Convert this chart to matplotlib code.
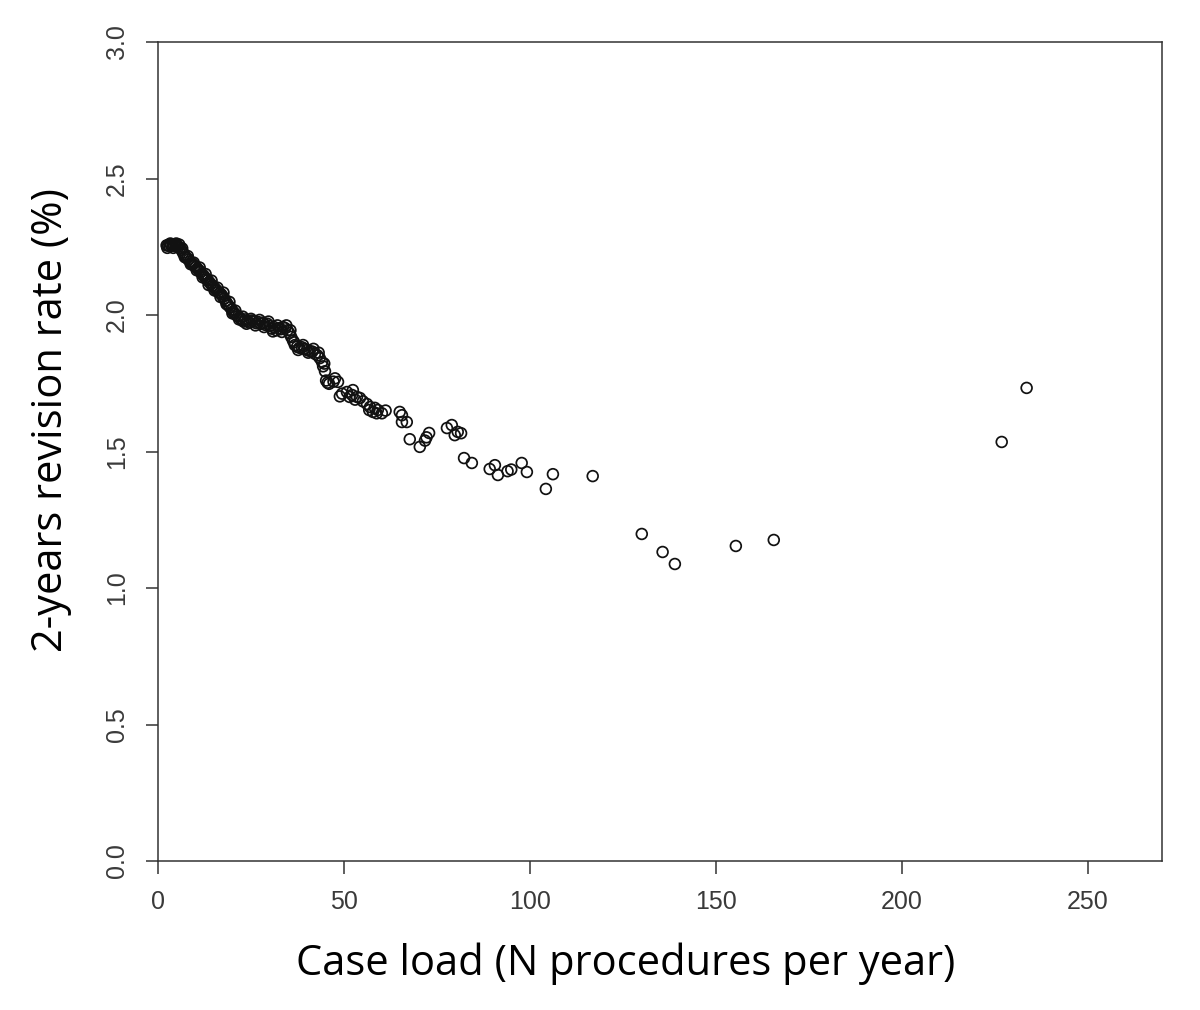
import matplotlib
matplotlib.use("Agg")
import matplotlib.pyplot as plt

# case load (procedures per year) and 2-year revision rate (%) per hospital
case_load = [
    2.3, 2.7, 3.1, 3.5, 3.9, 4.3, 4.7, 5.1, 5.5, 5.9,
    6.3, 6.7, 7.0, 7.4, 7.8, 8.2, 8.6, 9.0, 9.4, 9.8,
    10.2, 10.6, 11.0, 11.4, 11.8, 12.2, 12.6, 13.0, 13.4, 13.8,
    14.2, 14.6, 15.0, 15.4, 15.8, 16.2, 16.6, 17.0, 17.4, 17.8,
    18.2, 18.6, 19.0, 19.4, 19.8, 20.2, 20.6, 21.0, 21.5, 22.0,
    22.5, 23.0, 23.5, 24.0, 24.6, 25.2, 25.8, 26.4, 27.0, 27.6,
    28.2, 28.8, 29.4, 30.0, 30.6, 31.2, 31.8, 32.4, 33.0, 33.6,
    34.2, 34.8, 35.3, 35.8, 36.3, 36.8, 37.4, 38.0, 38.7, 39.4,
    40.1, 40.8, 41.5, 42.2, 42.9, 43.5, 44.1, 44.4, 44.9, 45.2,
    45.6, 47.6, 48.4, 48.9, 50.8, 52.2, 52.4, 53.5, 54.3, 55.1,
    56.2, 57.0, 57.8, 58.3, 59.1, 60.2, 61.2, 65.0, 65.6, 65.6,
    66.9, 67.7, 70.4, 71.8, 72.2, 72.9, 77.7, 79.0, 79.8, 80.6,
    81.5, 82.3, 84.4, 89.2, 90.6, 91.4, 94.0, 95.0, 97.8, 99.2,
    104.3, 106.2, 116.9, 130.1, 135.7, 139.0, 155.4, 165.6, 226.9, 233.6,
    2.5, 3.3, 4.1, 4.9, 5.7, 6.5, 7.2, 8.0, 8.8, 9.6,
    10.4, 11.2, 12.0, 12.8, 13.6, 14.4, 15.2, 16.0, 16.8, 17.6,
    18.4, 19.2, 20.0, 20.8, 21.8, 22.8, 23.8, 25.0, 26.2, 27.3,
    28.5, 29.7, 30.9, 32.1, 33.3, 34.5, 35.6, 36.6, 37.7, 39.0,
    40.4, 41.8, 43.2, 44.7, 46.0, 47.2, 49.5, 51.5, 53.0, 56.8,
    58.8,
]
revision_rate = [
    2.255, 2.256, 2.252, 2.256, 2.254, 2.256, 2.252, 2.255, 2.250, 2.246,
    2.238, 2.228, 2.222, 2.214, 2.208, 2.203, 2.196, 2.190, 2.186, 2.180,
    2.176, 2.170, 2.164, 2.158, 2.150, 2.146, 2.138, 2.132, 2.128, 2.120,
    2.114, 2.106, 2.102, 2.096, 2.090, 2.084, 2.080, 2.076, 2.068, 2.060,
    2.052, 2.042, 2.034, 2.028, 2.020, 2.012, 2.006, 2.000, 1.996, 1.990,
    1.982, 1.976, 1.984, 1.978, 1.972, 1.980, 1.976, 1.970, 1.974, 1.968,
    1.972, 1.964, 1.968, 1.960, 1.950, 1.956, 1.944, 1.952, 1.948, 1.956,
    1.952, 1.944, 1.934, 1.920, 1.906, 1.890, 1.884, 1.880, 1.882, 1.876,
    1.872, 1.868, 1.866, 1.858, 1.852, 1.842, 1.828, 1.812, 1.794, 1.760,
    1.752, 1.768, 1.755, 1.702, 1.718, 1.707, 1.725, 1.700, 1.696, 1.684,
    1.674, 1.663, 1.645, 1.660, 1.652, 1.640, 1.650, 1.645, 1.633, 1.608,
    1.608, 1.545, 1.517, 1.540, 1.552, 1.568, 1.586, 1.597, 1.560, 1.572,
    1.567, 1.476, 1.458, 1.436, 1.450, 1.414, 1.428, 1.434, 1.458, 1.425,
    1.363, 1.417, 1.410, 1.198, 1.132, 1.088, 1.154, 1.176, 1.535, 1.733,
    2.246, 2.262, 2.246, 2.262, 2.258, 2.244, 2.212, 2.216, 2.186, 2.192,
    2.164, 2.174, 2.138, 2.150, 2.110, 2.126, 2.090, 2.100, 2.066, 2.082,
    2.040, 2.048, 2.006, 2.016, 1.984, 1.994, 1.968, 1.986, 1.962, 1.982,
    1.956, 1.976, 1.940, 1.962, 1.938, 1.962, 1.944, 1.900, 1.872, 1.890,
    1.862, 1.876, 1.862, 1.822, 1.748, 1.756, 1.712, 1.700, 1.690, 1.652,
    1.640,
]
x_ticks = [0, 50, 100, 150, 200, 250]
y_ticks = [0.0, 0.5, 1.0, 1.5, 2.0, 2.5, 3.0]

fig = plt.figure(figsize=(12, 10.1), dpi=100)
ax = fig.add_axes([0.1317, 0.1475, 0.8366, 0.8109])

# open circles like R's pch=1
ax.scatter(case_load, revision_rate, s=60, facecolors="none",
           edgecolors="#111111", linewidths=1.25)

ax.set_xlim(0, 270)
ax.set_ylim(0, 3.0)
ax.set_xticks(x_ticks)
ax.set_xticklabels([str(t) for t in x_ticks])
ax.set_yticks(y_ticks)
ax.set_yticklabels(["%.1f" % t for t in y_ticks], rotation=90, va="center")

for s in ax.spines.values():
    s.set_linewidth(1.1)
    s.set_color("#333333")
ax.tick_params(length=9, width=1.1, color="#333333", labelsize=18,
               labelcolor="#3a3a3a", pad=12)
for lab in ax.get_xticklabels() + ax.get_yticklabels():
    lab.set_family("Liberation Sans")

ax.set_xlabel("Case load (N procedures per year)", family="Open Sans",
              fontsize=30)
ax.set_ylabel("2-years revision rate (%)", family="Open Sans",
              fontsize=30)
ax.xaxis.set_label_coords(0.466, -0.100)
ax.yaxis.set_label_coords(-0.086, 0.538)

fig.savefig("out.png", dpi=100)
